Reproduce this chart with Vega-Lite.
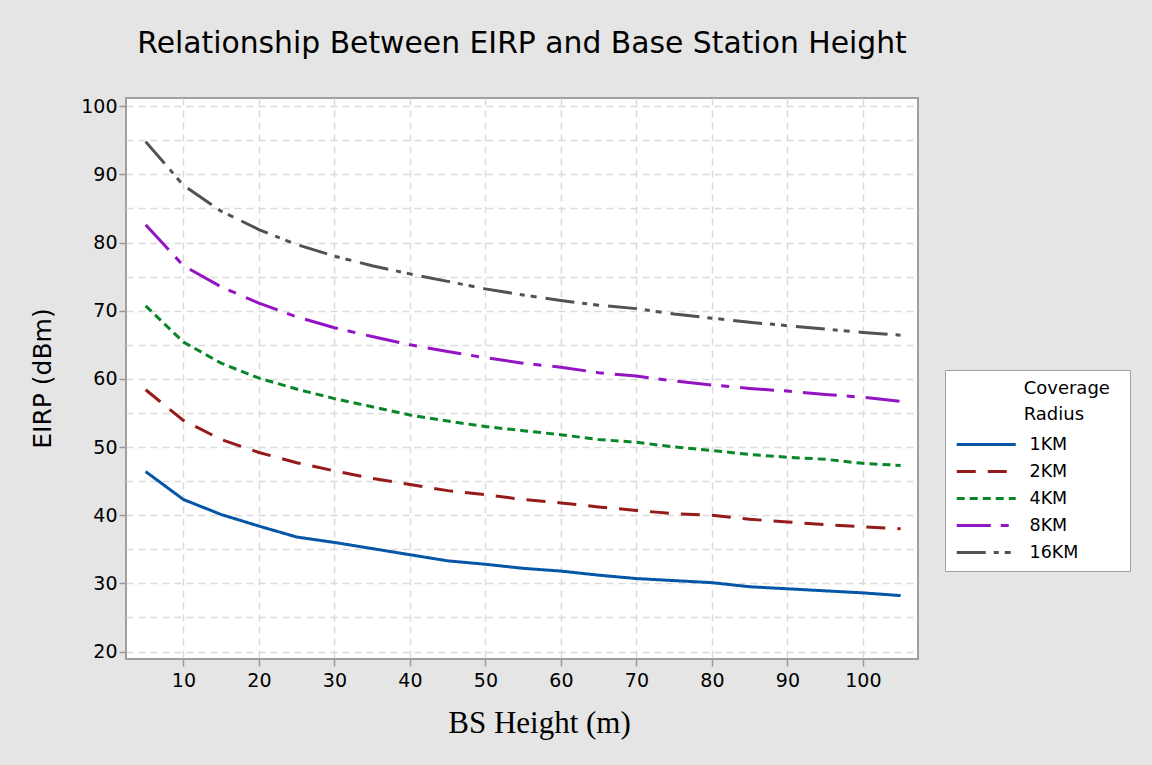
{
  "$schema": "https://vega.github.io/schema/vega-lite/v6.json",
  "width": 792,
  "height": 561,
  "autosize": {"type": "none"},
  "padding": {"left": 126, "top": 98, "right": 234, "bottom": 106},
  "background": "#e5e5e5",
  "title": {
    "text": "Relationship Between EIRP and Base Station Height",
    "font": "DejaVu Sans",
    "fontSize": 29.8,
    "fontWeight": "normal",
    "color": "#000000",
    "anchor": "middle",
    "offset": 38
  },
  "config": {
    "view": {"stroke": "#a0a0a0", "strokeWidth": 2, "fill": "#ffffff"},
    "axis": {
      "labelFont": "DejaVu Sans",
      "labelFontSize": 19,
      "labelColor": "#000000",
      "tickColor": "#999999",
      "tickWidth": 1.5,
      "tickSize": 7,
      "domain": false,
      "gridColor": "#dadada",
      "gridDash": [7, 5],
      "gridWidth": 1.5,
      "titleFontWeight": "normal",
      "titleColor": "#000000"
    },
    "legend": {
      "orient": "none",
      "legendX": 819,
      "legendY": 272,
      "titleFont": "DejaVu Sans",
      "titleFontSize": 18,
      "titleFontWeight": "normal",
      "titleColor": "#000000",
      "titleLineHeight": 26,
      "titlePadding": 4,
      "labelFont": "DejaVu Sans",
      "labelFontSize": 17.5,
      "labelColor": "#000000",
      "labelOffset": 41.5,
      "fillColor": "#ffffff",
      "strokeColor": "#a0a0a0",
      "padding": 10,
      "rowPadding": 2,
      "symbolType": "M-1,0H3",
      "symbolSize": 870,
      "symbolStrokeWidth": 3
    }
  },
  "data": {
    "values": [
      {"h": 5, "1KM": 46.4, "2KM": 58.4, "4KM": 70.7, "8KM": 82.6, "16KM": 94.8},
      {"h": 10, "1KM": 42.3, "2KM": 53.9, "4KM": 65.4, "8KM": 76.6, "16KM": 88.4},
      {"h": 15, "1KM": 40.1, "2KM": 51.1, "4KM": 62.3, "8KM": 73.5, "16KM": 84.6},
      {"h": 20, "1KM": 38.4, "2KM": 49.2, "4KM": 60.1, "8KM": 71.1, "16KM": 81.9},
      {"h": 25, "1KM": 36.8, "2KM": 47.7, "4KM": 58.5, "8KM": 69.1, "16KM": 79.7},
      {"h": 30, "1KM": 36.0, "2KM": 46.5, "4KM": 57.1, "8KM": 67.5, "16KM": 78.0},
      {"h": 35, "1KM": 35.1, "2KM": 45.4, "4KM": 55.9, "8KM": 66.2, "16KM": 76.6},
      {"h": 40, "1KM": 34.2, "2KM": 44.5, "4KM": 54.7, "8KM": 65.0, "16KM": 75.4},
      {"h": 45, "1KM": 33.3, "2KM": 43.6, "4KM": 53.8, "8KM": 64.0, "16KM": 74.3},
      {"h": 50, "1KM": 32.8, "2KM": 43.0, "4KM": 53.0, "8KM": 63.1, "16KM": 73.2},
      {"h": 55, "1KM": 32.2, "2KM": 42.3, "4KM": 52.4, "8KM": 62.3, "16KM": 72.3},
      {"h": 60, "1KM": 31.8, "2KM": 41.8, "4KM": 51.8, "8KM": 61.7, "16KM": 71.5},
      {"h": 65, "1KM": 31.2, "2KM": 41.2, "4KM": 51.1, "8KM": 60.9, "16KM": 70.8},
      {"h": 70, "1KM": 30.7, "2KM": 40.7, "4KM": 50.7, "8KM": 60.4, "16KM": 70.3},
      {"h": 75, "1KM": 30.4, "2KM": 40.2, "4KM": 50.0, "8KM": 59.7, "16KM": 69.5},
      {"h": 80, "1KM": 30.1, "2KM": 40.0, "4KM": 49.5, "8KM": 59.1, "16KM": 68.9},
      {"h": 85, "1KM": 29.5, "2KM": 39.4, "4KM": 48.9, "8KM": 58.6, "16KM": 68.3},
      {"h": 90, "1KM": 29.2, "2KM": 39.0, "4KM": 48.5, "8KM": 58.2, "16KM": 67.8},
      {"h": 95, "1KM": 28.9, "2KM": 38.6, "4KM": 48.2, "8KM": 57.7, "16KM": 67.3},
      {"h": 100, "1KM": 28.6, "2KM": 38.3, "4KM": 47.6, "8KM": 57.3, "16KM": 66.8},
      {"h": 105, "1KM": 28.2, "2KM": 38.0, "4KM": 47.3, "8KM": 56.7, "16KM": 66.4}
    ]
  },
  "transform": [
    {"fold": ["1KM", "2KM", "4KM", "8KM", "16KM"], "as": ["radius", "eirp"]}
  ],
  "mark": {"type": "line", "strokeWidth": 3, "clip": true},
  "encoding": {
    "x": {
      "field": "h",
      "type": "quantitative",
      "scale": {"domain": [2.4, 107.3], "nice": false, "zero": false},
      "axis": {
        "values": [10, 20, 30, 40, 50, 60, 70, 80, 90, 100],
        "labelPadding": 5,
        "title": "BS Height (m)",
        "titleFont": "Liberation Serif",
        "titleFontSize": 31,
        "titleX": 413,
        "titleY": 73,
        "titleAlign": "center",
        "titleBaseline": "alphabetic"
      }
    },
    "y": {
      "field": "eirp",
      "type": "quantitative",
      "scale": {"domain": [18.9, 101.2], "nice": false, "zero": false},
      "axis": {
        "values": [20, 25, 30, 35, 40, 45, 50, 55, 60, 65, 70, 75, 80, 85, 90, 95, 100],
        "labelExpr": "datum.value % 10 === 0 ? datum.label : ''",
        "tickOpacity": {"condition": {"test": "datum.value % 10 !== 0", "value": 0}, "value": 1},
        "labelPadding": 2,
        "title": "EIRP (dBm)",
        "titleFont": "DejaVu Sans",
        "titleFontSize": 25,
        "titleAngle": 270,
        "titleX": -84,
        "titleY": 280,
        "titleAlign": "center",
        "titleBaseline": "middle"
      }
    },
    "color": {
      "field": "radius",
      "type": "nominal",
      "scale": {
        "domain": ["1KM", "2KM", "4KM", "8KM", "16KM"],
        "range": ["#0656a8", "#961a1a", "#0a862a", "#9414c4", "#525252"]
      },
      "legend": {
        "title": ["\u200b\u00a0\u00a0\u00a0\u00a0\u00a0\u00a0\u00a0\u00a0\u00a0\u00a0\u00a0\u00a0Coverage\u00a0\u2009\u200b", "\u200b\u00a0\u00a0\u00a0\u00a0\u00a0\u00a0\u00a0\u00a0\u00a0\u00a0\u00a0\u00a0Radius"]
      }
    },
    "strokeDash": {
      "field": "radius",
      "type": "nominal",
      "scale": {
        "domain": ["1KM", "2KM", "4KM", "8KM", "16KM"],
        "range": [[1, 0], [19, 12], [8, 5], [34, 10, 8, 11], [29, 8, 5, 6, 6, 9]]
      },
      "legend": {
        "title": ["\u200b\u00a0\u00a0\u00a0\u00a0\u00a0\u00a0\u00a0\u00a0\u00a0\u00a0\u00a0\u00a0Coverage\u00a0\u2009\u200b", "\u200b\u00a0\u00a0\u00a0\u00a0\u00a0\u00a0\u00a0\u00a0\u00a0\u00a0\u00a0\u00a0Radius"]
      }
    }
  }
}
